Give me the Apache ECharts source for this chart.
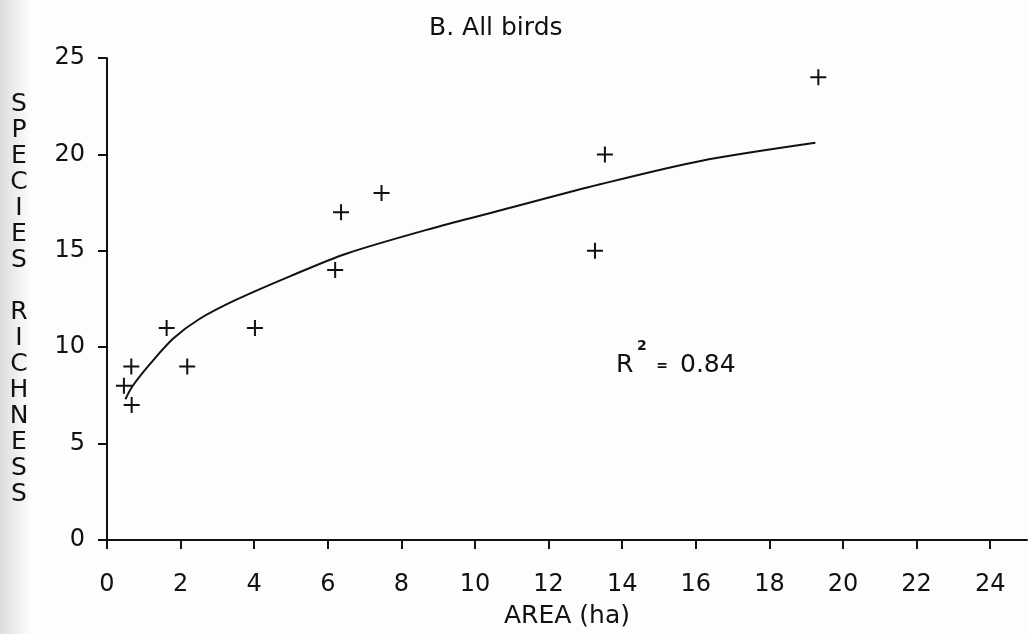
<!DOCTYPE html>
<html>
<head>
<meta charset="utf-8">
<title>B. All birds</title>
<script src="https://cdn.jsdelivr.net/npm/echarts@6/dist/echarts.min.js"></script>
<style>
  html, body { margin: 0; padding: 0; background: #fdfdfd; }
  #chart { width: 1028px; height: 634px; }
</style>
</head>
<body>
<div id="chart"></div>
<script>
// sites: area (ha) and species richness
const areaHa = [0.46, 0.66, 0.67, 1.62, 2.18, 4.02, 6.2, 6.36, 7.46, 13.26, 13.53, 19.33];
const richness = [8, 9, 7, 11, 9, 11, 14, 17, 18, 15, 20, 24];

// fitted curve
const fitArea = [0.5, 0.7, 1.2, 1.8, 2.5, 3.5, 5.0, 6.5, 8.9, 10.7, 13.4, 16.1, 19.25];
const fitRichness = [7.3, 8.0, 9.2, 10.45, 11.45, 12.45, 13.7, 14.85, 16.2, 17.1, 18.45, 19.65, 20.6];

const xTicks = [0, 2, 4, 6, 8, 10, 12, 14, 16, 18, 20, 22, 24];
const yTitle = 'SPECIES RICHNESS';

const ink = '#111';
const font = 'DejaVu Sans';

let chart = echarts.init(document.getElementById('chart'));

let points = areaHa.map((a, i) => [a, richness[i]]);
let curve = fitArea.map((a, i) => [a, fitRichness[i]]);

let option = {
  backgroundColor: '#fdfdfd',
  animation: false,
  title: {
    text: 'B. All birds',
    left: 424,
    top: 11,
    textStyle: { fontFamily: font, fontSize: 25, fontWeight: 'normal', color: ink }
  },
  grid: { left: 107, right: 1, top: 58, bottom: 93, containLabel: false },
  xAxis: {
    type: 'value',
    min: 0,
    max: 25,
    name: 'AREA (ha)',
    nameLocation: 'middle',
    nameGap: 64,
    nameTextStyle: { fontFamily: font, fontSize: 25, color: ink },
    splitLine: { show: false },
    axisLine: { onZero: false, lineStyle: { color: ink, width: 2 } },
    axisTick: { customValues: xTicks, length: 9, lineStyle: { color: ink, width: 2 } },
    axisLabel: { customValues: xTicks, margin: 33, fontFamily: font, fontSize: 24, color: ink }
  },
  yAxis: {
    type: 'value',
    min: 0,
    max: 25,
    interval: 5,
    splitLine: { show: false },
    axisLine: { show: true, lineStyle: { color: ink, width: 2 } },
    axisTick: { show: true, length: 9, lineStyle: { color: ink, width: 2 } },
    axisLabel: { margin: 22, fontFamily: font, fontSize: 24, color: ink }
  },
  graphic: [
    // grey edge of the scanned page
    {
      type: 'rect', z: -1, silent: true,
      shape: { x: 0, y: 0, width: 30, height: 634 },
      style: {
        fill: new echarts.graphic.LinearGradient(0, 0, 1, 0, [
          { offset: 0, color: 'rgba(0,0,0,0.13)' },
          { offset: 1, color: 'rgba(0,0,0,0)' }
        ])
      }
    },
    {
      type: 'text', x: 19, y: 91,
      style: {
        text: yTitle.split('').map(c => (c === ' ' ? '' : c)).join('\n'),
        align: 'center', verticalAlign: 'top', lineHeight: 26,
        fontFamily: font, fontSize: 25, fill: ink
      }
    },
    {
      type: 'text', x: 616, y: 365,
      style: { text: 'R', align: 'left', verticalAlign: 'middle', fontFamily: font, fontSize: 25, fill: ink }
    },
    {
      type: 'text', x: 637, y: 346,
      style: { text: '2', align: 'left', verticalAlign: 'middle', fontFamily: font, fontSize: 14, fontWeight: 'bold', fill: ink }
    },
    {
      type: 'text', x: 662, y: 366,
      style: { text: '=', align: 'center', verticalAlign: 'middle', fontFamily: font, fontSize: 14, fontWeight: 'bold', fill: ink }
    },
    {
      type: 'text', x: 680, y: 365,
      style: { text: '0.84', align: 'left', verticalAlign: 'middle', fontFamily: font, fontSize: 25, fill: ink }
    }
  ],
  series: [
    {
      type: 'line',
      data: curve,
      smooth: 0.3,
      showSymbol: false,
      lineStyle: { color: ink, width: 2 },
      z: 2
    },
    {
      type: 'scatter',
      data: points,
      symbol: 'path://M7,0H9V7H16V9H9V16H7V9H0V7H7Z',
      symbolSize: 16,
      itemStyle: { color: ink, opacity: 1 },
      z: 3
    }
  ]
};

chart.setOption(option);
</script>
</body>
</html>
